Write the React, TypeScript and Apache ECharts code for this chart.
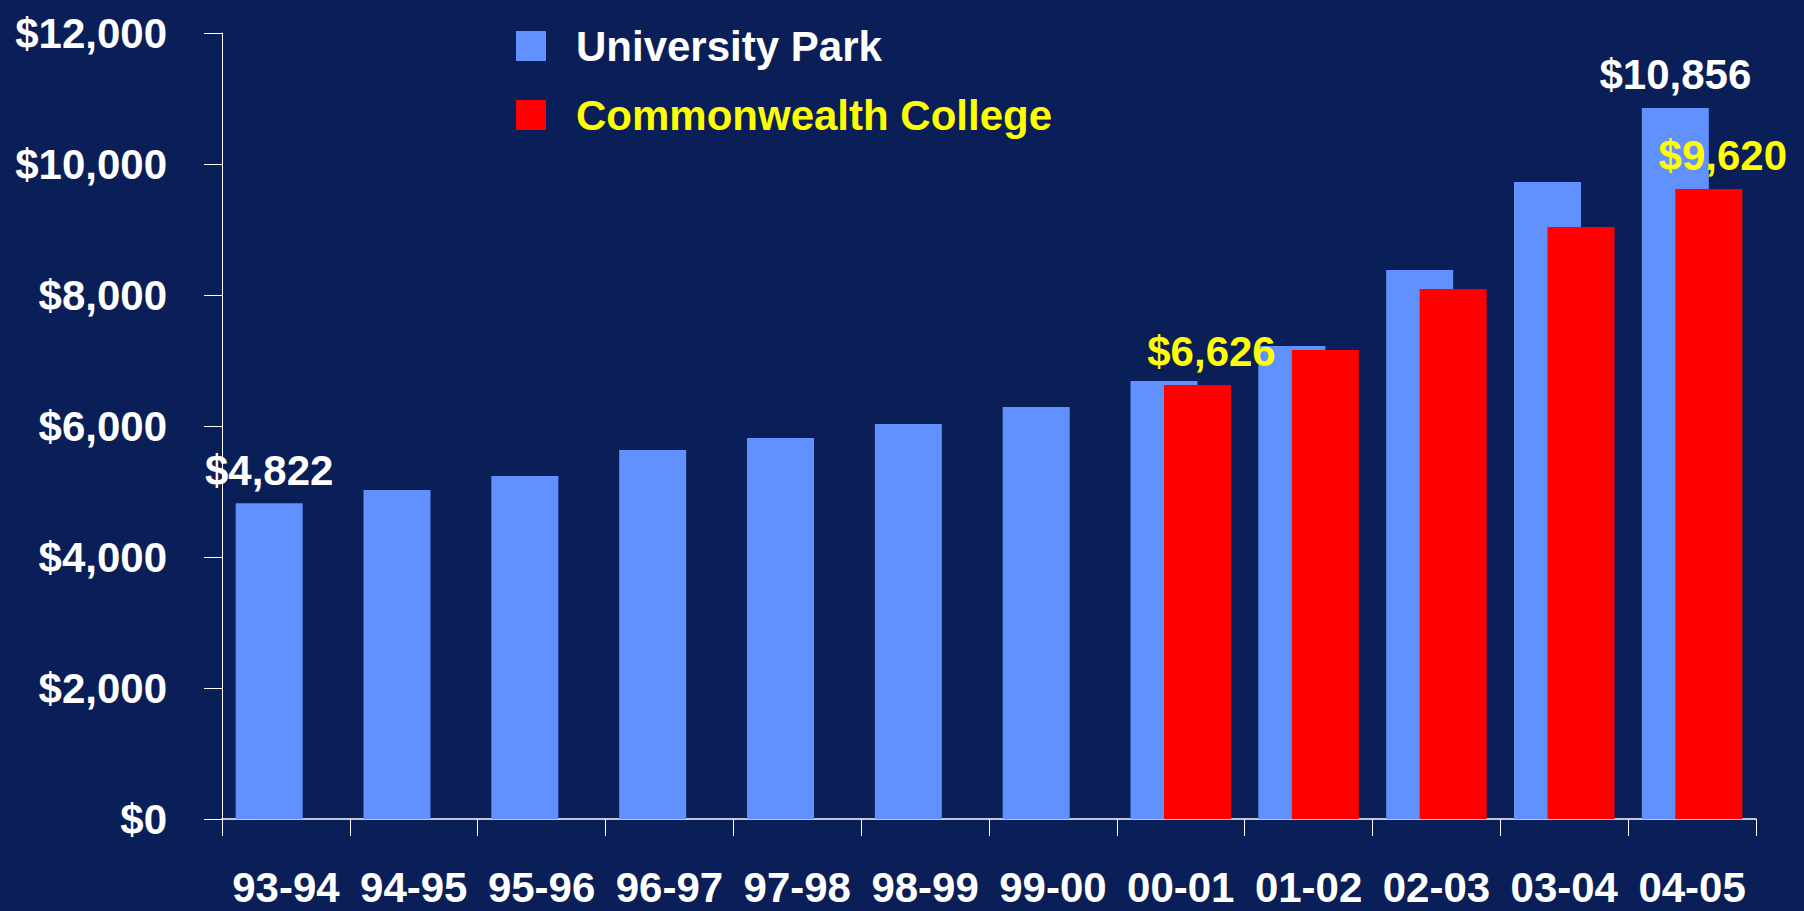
import React, { useEffect, useRef } from "react";
import * as echarts from "echarts";

const categories = ["93-94", "94-95", "95-96", "96-97", "97-98", "98-99", "99-00", "00-01", "01-02", "02-03", "03-04", "04-05"];
const universityPark = [4822, 5023, 5237, 5634, 5817, 6031, 6290, 6687, 7221, 8382, 9727, 10856];
const commonwealth = [null, null, null, null, null, null, null, 6626, 7160, 8092, 9040, 9620];
const labeledUP = [0, 11];
const labeledCW = [7, 11];

const FONT = "'Liberation Sans', Arial, sans-serif";
const fmt = (v: number) => "$" + v.toLocaleString("en-US");

export default function App() {
  const ref = useRef<HTMLDivElement>(null);
  useEffect(() => {
    const chart = echarts.init(ref.current!, null, { renderer: "svg" });
    chart.setOption({
      animation: false,
      backgroundColor: "#0A1E57",
      textStyle: { fontFamily: FONT },
      legend: {
        orient: "vertical",
        left: 511,
        top: 20,
        itemWidth: 30,
        itemHeight: 30,
        itemGap: 27,
        icon: "rect",
        textStyle: { fontSize: 42, fontWeight: "bold", fontFamily: FONT, padding: [0, 0, 0, 25] },
        data: [
          { name: "University Park", textStyle: { color: "#FFFFFF" } },
          { name: "Commonwealth College", textStyle: { color: "#FFFF00" } },
        ],
      },
      grid: { left: 222, right: 48, top: 33, bottom: 92 },
      xAxis: {
        type: "category",
        data: categories,
        axisLine: { lineStyle: { color: "#FFFFFF", width: 1.5 } },
        axisTick: { show: true, length: 17, lineStyle: { color: "#FFFFFF" } },
        axisLabel: { color: "#FFFFFF", fontSize: 42, fontWeight: "bold", fontFamily: FONT, margin: 47, interval: 0 },
      },
      yAxis: {
        type: "value",
        min: 0,
        max: 12000,
        interval: 2000,
        splitLine: { show: false },
        axisLine: { show: true, lineStyle: { color: "#FFFFFF", width: 1 } },
        axisTick: { show: true, length: 18, lineStyle: { color: "#FFFFFF" } },
        axisLabel: { color: "#FFFFFF", fontSize: 42, fontWeight: "bold", fontFamily: FONT, margin: 55, formatter: (v: number) => fmt(v) },
      },
      series: [
        {
          name: "University Park",
          type: "bar",
          barWidth: 67,
          barGap: "-50%",
          itemStyle: { color: "#6190FF" },
          data: universityPark.map((v, i) =>
            labeledUP.includes(i)
              ? { value: v, label: { show: true, position: "top", distance: 12, color: "#FFFFFF", fontSize: 42, fontWeight: "bold", fontFamily: FONT, formatter: () => fmt(v) } }
              : v
          ),
        },
        {
          name: "Commonwealth College",
          type: "bar",
          barWidth: 67,
          itemStyle: { color: "#FF0000" },
          data: commonwealth.map((v, i) =>
            v !== null && labeledCW.includes(i)
              ? { value: v, label: { show: true, position: "top", distance: 12, offset: [14, 0], color: "#FFFF00", fontSize: 42, fontWeight: "bold", fontFamily: FONT, formatter: () => fmt(v) } }
              : v === null ? "-" : v
          ),
        },
      ],
    });
    return () => chart.dispose();
  }, []);
  return <div ref={ref} style={{ position: "fixed", left: 0, top: 0, width: 1804, height: 911 }} />;
}
